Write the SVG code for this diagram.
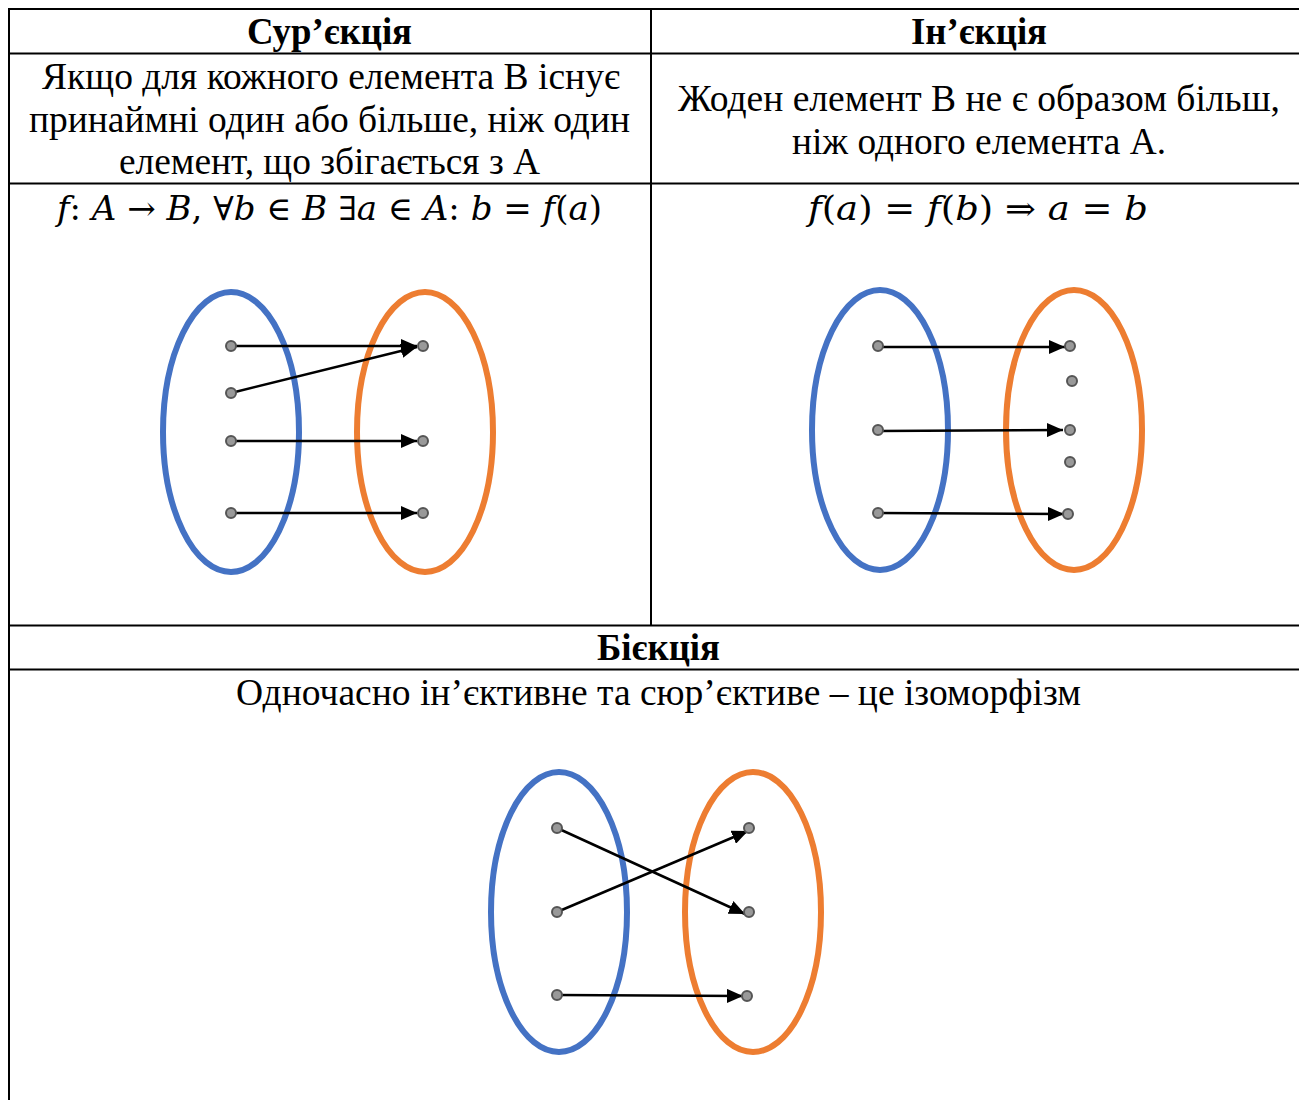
<svg xmlns="http://www.w3.org/2000/svg" width="1299" height="1100" viewBox="0 0 1299 1100">
<style>
.grid{stroke:#000;stroke-width:2;fill:none}
.h{font-family:"Liberation Serif","Times New Roman",serif;font-weight:bold;font-size:37px;text-anchor:middle;fill:#000}
.t{font-family:"Liberation Serif","Times New Roman",serif;font-size:37px;text-anchor:middle;fill:#000}
.m{font-family:"DejaVu Serif","Liberation Serif",serif;font-style:italic;font-size:33px;text-anchor:middle;fill:#000}
.u{font-style:normal}
.setA{fill:none;stroke:#4472C4;stroke-width:6}
.setB{fill:none;stroke:#ED7D31;stroke-width:6}
.dot{fill:#999;stroke:#555;stroke-width:2}
.arr{stroke:#000;stroke-width:2.5;fill:none;marker-end:url(#ah)}
</style>
<defs>
<marker id="ah" markerUnits="userSpaceOnUse" markerWidth="18" markerHeight="14" refX="16" refY="7" orient="auto">
<path d="M0,0 L16,7 L0,14 Z" fill="#000"/>
</marker>
</defs>
<rect width="1299" height="1100" fill="#fff"/>
<g id="table">
<line class="grid" x1="9" y1="9" x2="1299" y2="9"/>
<line class="grid" x1="9" y1="53.5" x2="1299" y2="53.5"/>
<line class="grid" x1="9" y1="183.5" x2="1299" y2="183.5"/>
<line class="grid" x1="9" y1="625.5" x2="1299" y2="625.5"/>
<line class="grid" x1="9" y1="669.5" x2="1299" y2="669.5"/>
<line class="grid" x1="9" y1="8" x2="9" y2="1100"/>
<line class="grid" x1="651" y1="9" x2="651" y2="625.5"/>
</g>
<g id="texts">
<text class="h" x="329.5" y="44" textLength="165" lengthAdjust="spacingAndGlyphs">Сур’єкція</text>
<text class="h" x="979" y="44" textLength="136" lengthAdjust="spacingAndGlyphs">Ін’єкція</text>
<text class="t" x="331" y="89" textLength="578" lengthAdjust="spacingAndGlyphs">Якщо для кожного елемента В існує</text>
<text class="t" x="329.5" y="132" textLength="601" lengthAdjust="spacingAndGlyphs">принаймні один або більше, ніж один</text>
<text class="t" x="329.5" y="174" textLength="421" lengthAdjust="spacingAndGlyphs">елемент, що збігається з А</text>
<text class="t" x="979" y="111" textLength="602" lengthAdjust="spacingAndGlyphs">Жоден елемент В не є образом більш,</text>
<text class="t" x="979" y="154" textLength="374" lengthAdjust="spacingAndGlyphs">ніж одного елемента А.</text>
<text class="m" x="329.5" y="220" textLength="545" lengthAdjust="spacingAndGlyphs">f<tspan class="u">: </tspan>A<tspan class="u"> → </tspan>B<tspan class="u">, ∀</tspan>b<tspan class="u"> ∈ </tspan>B<tspan class="u"> ∃</tspan>a<tspan class="u"> ∈ </tspan>A<tspan class="u">: </tspan>b<tspan class="u"> = </tspan>f<tspan class="u">(</tspan>a<tspan class="u">)</tspan></text>
<text class="m" x="978" y="220" textLength="340" lengthAdjust="spacingAndGlyphs">f<tspan class="u">(</tspan>a<tspan class="u">) = </tspan>f<tspan class="u">(</tspan>b<tspan class="u">) ⇒ </tspan>a<tspan class="u"> = </tspan>b</text>
<text class="h" x="658.5" y="660" textLength="123" lengthAdjust="spacingAndGlyphs">Бієкція</text>
<text class="t" x="658.5" y="705" textLength="845" lengthAdjust="spacingAndGlyphs">Одночасно ін’єктивне та сюр’єктиве – це ізоморфізм</text>
</g>
<g id="surjection">
<g id="surj-A"><ellipse class="setA" cx="231" cy="432" rx="68" ry="140"/></g>
<g id="surj-B"><ellipse class="setB" cx="425" cy="432" rx="68" ry="140"/></g>
<g id="surj-connectors">
<line class="arr" x1="231" y1="346" x2="417" y2="346"/>
<line class="arr" x1="231" y1="393" x2="417" y2="347"/>
<line class="arr" x1="231" y1="441" x2="417" y2="441"/>
<line class="arr" x1="231" y1="513" x2="417" y2="513"/>
</g>
<g id="surj-dots">
<circle class="dot" cx="231" cy="346" r="5"/>
<circle class="dot" cx="231" cy="393" r="5"/>
<circle class="dot" cx="231" cy="441" r="5"/>
<circle class="dot" cx="231" cy="513" r="5"/>
<circle class="dot" cx="423" cy="346" r="5"/>
<circle class="dot" cx="423" cy="441" r="5"/>
<circle class="dot" cx="423" cy="513" r="5"/>
</g>
</g>
<g id="injection">
<g id="inj-A"><ellipse class="setA" cx="880" cy="430" rx="68" ry="140"/></g>
<g id="inj-B"><ellipse class="setB" cx="1074" cy="430" rx="68" ry="140"/></g>
<g id="inj-connectors">
<line class="arr" x1="878" y1="347" x2="1065" y2="347"/>
<line class="arr" x1="878" y1="431" x2="1063" y2="430"/>
<line class="arr" x1="878" y1="513" x2="1064" y2="514"/>
</g>
<g id="inj-dots">
<circle class="dot" cx="878" cy="346" r="5"/>
<circle class="dot" cx="878" cy="430" r="5"/>
<circle class="dot" cx="878" cy="513" r="5"/>
<circle class="dot" cx="1070" cy="346" r="5"/>
<circle class="dot" cx="1072" cy="381" r="5"/>
<circle class="dot" cx="1070" cy="430" r="5"/>
<circle class="dot" cx="1070" cy="462" r="5"/>
<circle class="dot" cx="1068" cy="514" r="5"/>
</g>
</g>
<g id="bijection">
<g id="bij-A"><ellipse class="setA" cx="559" cy="912" rx="68" ry="140"/></g>
<g id="bij-B"><ellipse class="setB" cx="753" cy="912" rx="68" ry="140"/></g>
<g id="bij-connectors">
<line class="arr" x1="557" y1="828" x2="745" y2="914"/>
<line class="arr" x1="557" y1="912" x2="748" y2="831"/>
<line class="arr" x1="557" y1="995" x2="743" y2="996"/>
</g>
<g id="bij-dots">
<circle class="dot" cx="557" cy="828" r="5"/>
<circle class="dot" cx="557" cy="912" r="5"/>
<circle class="dot" cx="557" cy="995" r="5"/>
<circle class="dot" cx="749" cy="828" r="5"/>
<circle class="dot" cx="749" cy="912" r="5"/>
<circle class="dot" cx="747" cy="996" r="5"/>
</g>
</g>
</svg>
